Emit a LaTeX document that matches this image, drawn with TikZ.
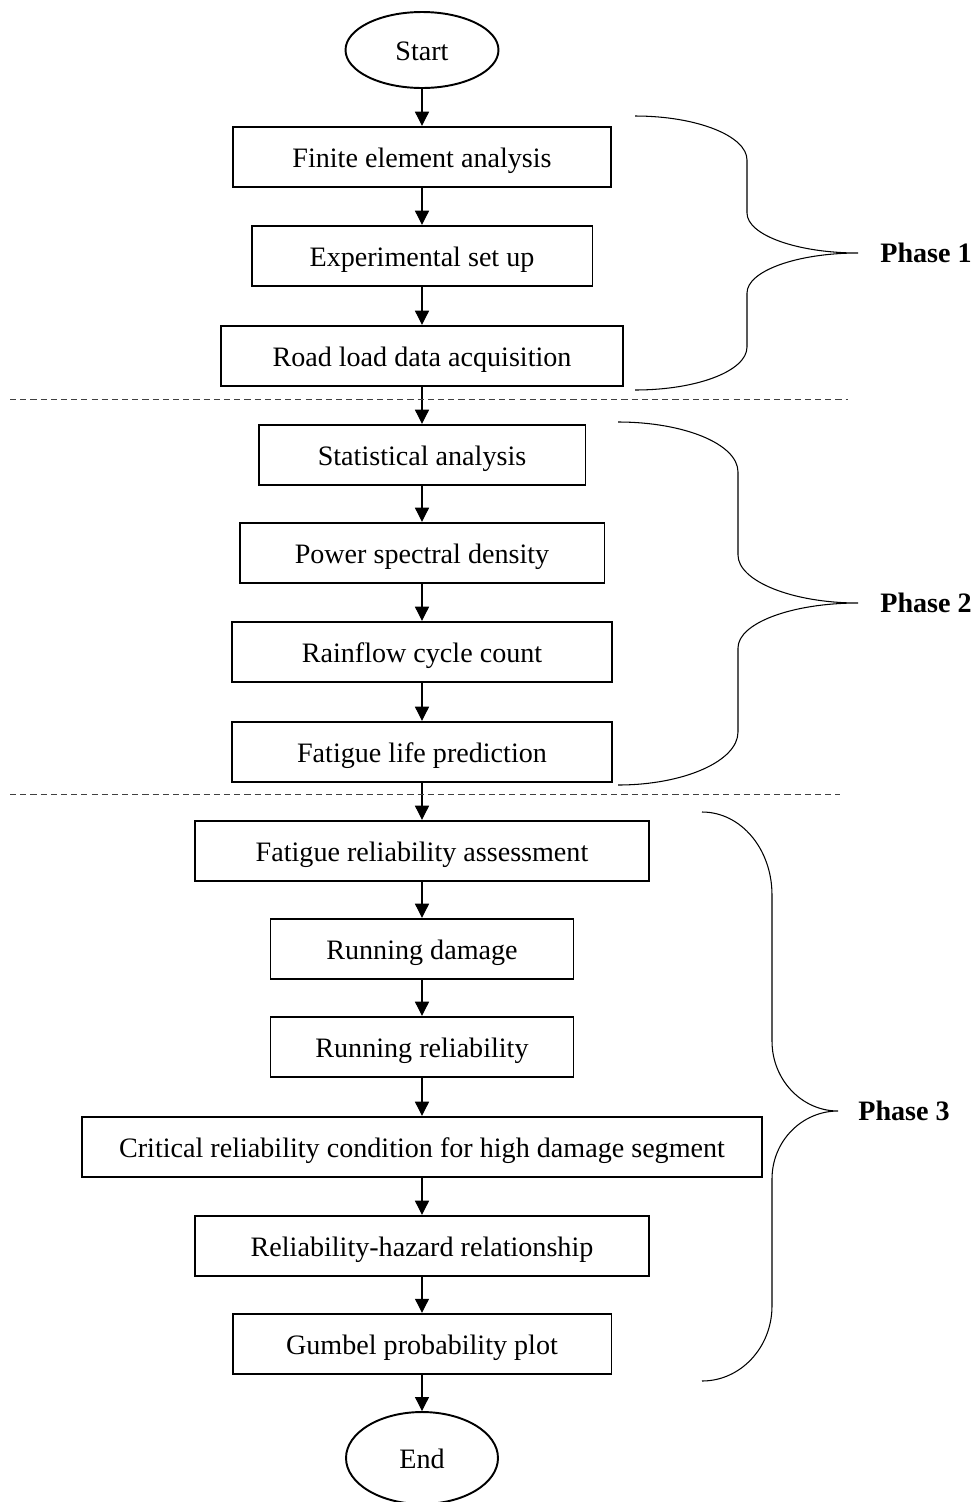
\documentclass[tikz,border=0pt]{standalone}
\usepackage{fontspec}
\setmainfont{Liberation Serif}
\usetikzlibrary{arrows.meta,shapes.geometric}
\tikzstyle{terminal}=[ellipse,draw,line width=1.1pt,inner sep=0pt,text height=12.5pt,text depth=0pt,font=\fontsize{16}{19}\selectfont]
\tikzstyle{process}=[rectangle,draw,line width=1.1pt,minimum height=1.21cm,inner sep=0pt,text height=12.5pt,text depth=0pt,font=\fontsize{16}{19}\selectfont]
\tikzstyle{flow}=[-{Triangle[length=8pt,width=8pt]},line width=0.6pt]
\tikzstyle{bracket}=[line width=0.6pt]
\tikzstyle{divider}=[black!75,line width=0.5pt,dash pattern=on 3.5pt off 2.3pt]
\tikzstyle{phase}=[anchor=west,inner sep=0pt,font=\fontsize{16}{19}\selectfont\bfseries]

\begin{document}
\begin{tikzpicture}[x=0.02cm,y=-0.02cm]
\useasboundingbox (0,0) rectangle (975,1502);

\node[terminal,minimum width=3.06cm,minimum height=1.52cm] at (422,50) (start) {Start};
\node[process,minimum width=7.56cm] at (422,157) (fea) {Finite element analysis};
\node[process,minimum width=6.82cm] at (422,256) (setup) {Experimental set up};
\node[process,minimum width=8.04cm] at (422,356) (rld) {Road load data acquisition};
\node[process,minimum width=6.54cm] at (422,455) (stat) {Statistical analysis};
\node[process,minimum width=7.30cm] at (422,553) (psd) {Power spectral density};
\node[process,minimum width=7.60cm] at (422,652) (rain) {Rainflow cycle count};
\node[process,minimum width=7.60cm] at (422,752) (life) {Fatigue life prediction};
\node[process,minimum width=9.10cm] at (422,851) (fra) {Fatigue reliability assessment};
\node[process,minimum width=6.06cm] at (422,949) (rdam) {Running damage};
\node[process,minimum width=6.06cm] at (422,1047) (rrel) {Running reliability};
\node[process,minimum width=13.60cm] at (422,1147) (crit) {Critical reliability condition for high damage segment};
\node[process,minimum width=9.10cm] at (422,1246) (haz) {Reliability-hazard relationship};
\node[process,minimum width=7.58cm] at (422,1344) (gum) {Gumbel probability plot};
\node[terminal,minimum width=3.04cm,minimum height=1.84cm] at (422,1458) (end) {End};

\draw[flow] (start) edge (fea);
\draw[flow] (fea) edge (setup);
\draw[flow] (setup) edge (rld);
\draw[flow] (rld) edge (stat);
\draw[flow] (stat) edge (psd);
\draw[flow] (psd) edge (rain);
\draw[flow] (rain) edge (life);
\draw[flow] (life) edge (fra);
\draw[flow] (fra) edge (rdam);
\draw[flow] (rdam) edge (rrel);
\draw[flow] (rrel) edge (crit);
\draw[flow] (crit) edge (haz);
\draw[flow] (haz) edge (gum);
\draw[flow] (gum) edge (end);

% phase separators
\coordinate (cut1l) at (10,399);
\coordinate (cut1r) at (848,399);
\coordinate (cut2l) at (10,794);
\coordinate (cut2r) at (840,794);
\draw[divider] (cut1l) -- (cut1r);
\draw[divider] (cut2l) -- (cut2r);

% braces
\coordinate (p1top) at (635,116);
\coordinate (p1tip) at (858,253);
\coordinate (p1bot) at (635,390);
\draw[bracket] (p1top) .. controls (697,116) and (747,136) .. (747,160) -- (747,213)
  .. controls (747,235) and (797,253) .. (p1tip)
  .. controls (797,253) and (747,271) .. (747,293) -- (747,347)
  .. controls (747,371) and (697,390) .. (p1bot);
\node[phase] at (880,253) (ph1) {Phase 1};

\coordinate (p2top) at (618,422);
\coordinate (p2tip) at (858,603);
\coordinate (p2bot) at (618,785);
\draw[bracket] (p2top) .. controls (684,422) and (738,444) .. (738,472) -- (738,555)
  .. controls (738,581) and (792,603) .. (p2tip)
  .. controls (792,603) and (738,623) .. (738,648) -- (738,732)
  .. controls (738,761) and (684,785) .. (p2bot);
\node[phase] at (880,603) (ph2) {Phase 2};

\coordinate (p3top) at (702,812);
\coordinate (p3tip) at (838,1111);
\coordinate (p3bot) at (702,1381);
\draw[bracket] (p3top) .. controls (741,812) and (772,849) .. (772,895) -- (772,1041)
  .. controls (772,1080) and (802,1111) .. (p3tip)
  .. controls (802,1111) and (772,1141) .. (772,1179) -- (772,1306)
  .. controls (772,1347) and (741,1381) .. (p3bot);
\node[phase] at (858,1111) (ph3) {Phase 3};

\end{tikzpicture}
\end{document}
